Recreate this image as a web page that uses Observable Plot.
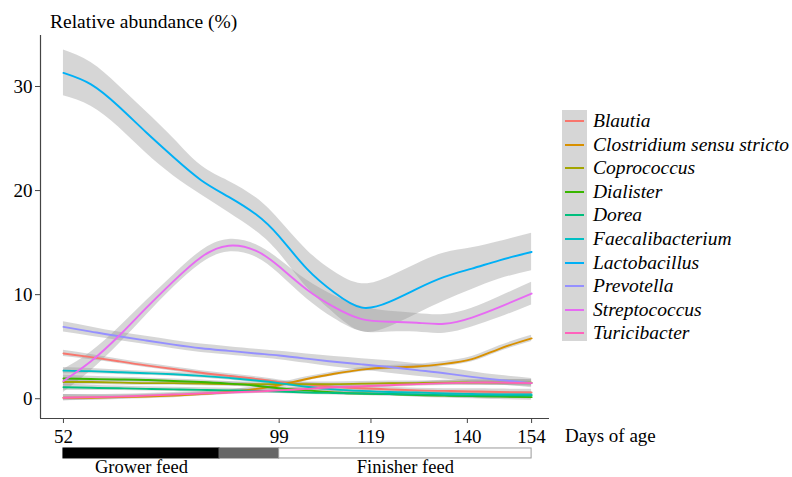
<!DOCTYPE html>
<html>
<head>
<meta charset="utf-8">
<script src="https://cdn.jsdelivr.net/npm/d3@7"></script>
<script src="https://cdn.jsdelivr.net/npm/@observablehq/plot@0.6"></script>
<style>
  html, body { margin: 0; padding: 0; background: #fff; }
  #wrap { position: relative; width: 792px; height: 477px; overflow: hidden; font-family: "Liberation Serif", "DejaVu Serif", serif; color: #000; }
  #chart { position: absolute; left: 0; top: 0; }
  .title { position: absolute; left: 50px; top: 11px; font-size: 19.5px; white-space: nowrap; }
  .xlab { position: absolute; left: 565px; top: 425px; font-size: 19px; white-space: nowrap; }
  #legend { position: absolute; left: 562px; top: 110px; }
  .lgbox { position: absolute; left: 0; top: 0; width: 25px; height: 231px; background: #d6d6d6; }
  .lgrow { position: absolute; left: 0; height: 23px; white-space: nowrap; font-style: italic; font-size: 19.5px; }
  .lgrow .sw { position: absolute; left: 3px; top: 10px; width: 19px; height: 2px; }
  .lgrow .tx { position: absolute; left: 31px; top: 0; line-height: 21px; }
</style>
</head>
<body>
<div id="wrap">
  <div id="chart"></div>
  <div class="title">Relative abundance (%)</div>
  <div class="xlab">Days of age</div>
  <div id="legend"></div>
</div>
<script>
// ---- data ----
const genera = ["Blautia", "Clostridium sensu stricto", "Coprococcus", "Dialister", "Dorea",
  "Faecalibacterium", "Lactobacillus", "Prevotella", "Streptococcus", "Turicibacter"];
const colors = ["#F8766D", "#D89000", "#A3A500", "#39B600", "#00BF7D",
  "#00BFC4", "#00B0F6", "#9590FF", "#E76BF3", "#FF62BC"];

const days = [52, 58, 64, 70, 76, 82, 88, 94, 99, 105, 111, 117, 123, 129, 135, 141, 147, 154];

const blautia        = [4.35, 4.0, 3.6, 3.2, 2.85, 2.5, 2.2, 1.9, 1.6, 1.35, 1.15, 1.0, 0.9, 0.8, 0.75, 0.7, 0.65, 0.6];
const clostridium    = [0.1, 0.1, 0.15, 0.2, 0.3, 0.45, 0.65, 0.95, 1.3, 1.9, 2.4, 2.8, 3.0, 3.1, 3.35, 3.8, 4.8, 5.8];
const coprococcus    = [1.6, 1.6, 1.55, 1.5, 1.5, 1.45, 1.4, 1.4, 1.4, 1.4, 1.4, 1.45, 1.5, 1.5, 1.55, 1.55, 1.55, 1.55];
const dialister      = [1.95, 1.9, 1.85, 1.8, 1.7, 1.6, 1.45, 1.25, 1.0, 0.8, 0.6, 0.5, 0.45, 0.35, 0.3, 0.25, 0.2, 0.15];
const dorea          = [1.1, 1.05, 1.0, 0.95, 0.9, 0.85, 0.8, 0.75, 0.7, 0.6, 0.55, 0.5, 0.45, 0.4, 0.35, 0.3, 0.3, 0.3];
const faecalibacterium = [2.7, 2.65, 2.55, 2.45, 2.35, 2.2, 2.0, 1.75, 1.5, 1.15, 0.9, 0.75, 0.65, 0.6, 0.5, 0.45, 0.4, 0.4];
const lactobacillus  = [31.3, 30.2, 28.1, 25.6, 23.2, 21.0, 19.4, 17.7, 15.6, 12.5, 10.2, 8.75, 9.3, 10.55, 11.7, 12.5, 13.3, 14.1];
const prevotella     = [6.9, 6.45, 6.0, 5.6, 5.2, 4.85, 4.6, 4.35, 4.15, 3.85, 3.55, 3.3, 3.05, 2.75, 2.45, 2.1, 1.8, 1.5];
const streptococcus  = [1.7, 3.6, 6.0, 8.7, 11.3, 13.6, 14.7, 14.2, 12.7, 10.5, 8.8, 7.65, 7.4, 7.3, 7.2, 7.8, 8.8, 10.1];
const turicibacter   = [0.1, 0.15, 0.2, 0.3, 0.4, 0.5, 0.6, 0.7, 0.8, 0.95, 1.1, 1.2, 1.3, 1.4, 1.5, 1.55, 1.55, 1.5];

// confidence band half-widths
const smallSe        = [0.3, 0.25, 0.22, 0.2, 0.2, 0.2, 0.2, 0.2, 0.2, 0.2, 0.2, 0.2, 0.2, 0.2, 0.22, 0.25, 0.28, 0.3];
const lactobacillusSe = [2.2, 2.1, 2.0, 2.0, 1.8, 1.4, 1.5, 1.6, 1.6, 1.8, 2.0, 2.3, 2.4, 2.4, 2.3, 2.0, 1.8, 1.8];
const prevotellaSe   = [0.5, 0.45, 0.4, 0.4, 0.4, 0.4, 0.4, 0.4, 0.4, 0.45, 0.5, 0.55, 0.6, 0.6, 0.55, 0.5, 0.45, 0.45];
const streptococcusSe = [1.1, 0.9, 0.8, 0.7, 0.6, 0.6, 0.6, 0.6, 0.7, 0.9, 1.1, 1.2, 1.0, 0.9, 0.9, 0.9, 1.0, 1.1];

const xTicks = [52, 99, 119, 140, 154];
const yTicks = [0, 10, 20, 30];

const feedStart = [52, 86, 99];
const feedEnd   = [86, 99, 154];
const feedFill  = ["#000000", "#666666", "#ffffff"];
const feedLabels = ["Grower feed", "", "Finisher feed"];

// ---- build table ----
const seriesValues = [blautia, clostridium, coprococcus, dialister, dorea, faecalibacterium, lactobacillus, prevotella, streptococcus, turicibacter];
const seriesSe = [smallSe, smallSe, smallSe, smallSe, smallSe, smallSe, lactobacillusSe, prevotellaSe, streptococcusSe, smallSe];
const rows = [];
genera.forEach((g, i) => {
  days.forEach((d, j) => {
    const v = seriesValues[i][j], s = seriesSe[i][j];
    rows.push({genus: g, day: d, value: v, lo: v - s, hi: v + s});
  });
});
const feed = feedStart.map((s, i) => ({start: s, end: feedEnd[i], fill: feedFill[i], label: feedLabels[i], mid: (s + feedEnd[i]) / 2}));

const xDomain = [47, 157.9];
const yDomain = [-1.9, 34.9];

const chart = Plot.plot({
  width: 792,
  height: 477,
  marginLeft: 40,
  marginRight: 243,
  marginTop: 35,
  marginBottom: 59,
  style: {fontFamily: "Liberation Serif, serif", fontSize: "18px", background: "#fff", color: "#000"},
  x: {domain: xDomain},
  y: {domain: yDomain},
  color: {domain: genera, range: colors},
  marks: [
    Plot.areaY(rows, {x: "day", y1: "lo", y2: "hi", z: "genus", fill: "#999999", fillOpacity: 0.4, curve: "natural"}),
    Plot.lineY(rows, {x: "day", y: "value", z: "genus", stroke: "genus", strokeWidth: 1.9, curve: "natural"}),
    Plot.ruleX([xDomain[0]], {stroke: "#444", strokeWidth: 1.2}),
    Plot.ruleY([yDomain[0]], {stroke: "#444", strokeWidth: 1.2}),
    Plot.axisX({ticks: xTicks, tickFormat: d => String(d), tickSize: 5, tickPadding: 6, stroke: "#444", label: null, fontSize: 19}),
    Plot.axisY({ticks: yTicks, tickSize: 5, tickPadding: 3, stroke: "#444", label: null, fontSize: 19}),
    Plot.rectY(feed, {x1: "start", x2: "end", y1: -4.78, y2: -5.74, fill: "fill", stroke: d => d.fill === "#ffffff" ? "#999" : d.fill, strokeWidth: 1}),
    Plot.text(feed, {x: "mid", y: -5.85, text: "label", lineAnchor: "top", textAnchor: "middle", fontSize: 18.5})
  ]
});
document.getElementById("chart").appendChild(chart);

// ---- legend ----
const lg = document.getElementById("legend");
const box = document.createElement("div");
box.className = "lgbox";
lg.appendChild(box);
genera.forEach((g, i) => {
  const r = document.createElement("div");
  r.className = "lgrow";
  r.style.top = (i * 23.6) + "px";
  const sw = document.createElement("div");
  sw.className = "sw";
  sw.style.background = colors[i];
  const tx = document.createElement("div");
  tx.className = "tx";
  tx.textContent = g;
  r.appendChild(sw);
  r.appendChild(tx);
  lg.appendChild(r);
});
</script>
</body>
</html>
